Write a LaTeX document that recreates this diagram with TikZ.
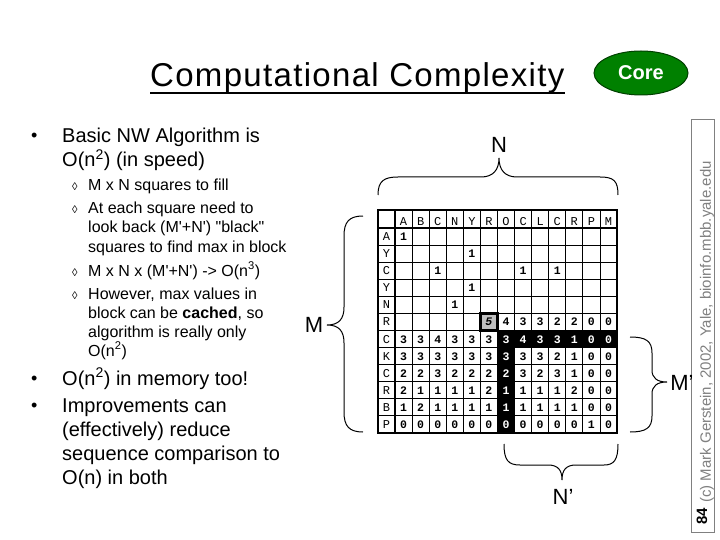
\documentclass[tikz,border=0pt]{standalone}
\usepackage{fontspec}
\setmainfont{Liberation Sans}[Ligatures=TeXOff]
\newfontfamily\monof{Liberation Mono}
\usetikzlibrary{shapes.geometric}
\definecolor{coregreen}{RGB}{0,128,0}
\definecolor{coreedge}{RGB}{0,64,0}
\definecolor{cellgray}{RGB}{192,192,192}
\definecolor{footgray}{RGB}{128,128,128}
\begin{document}
\begin{tikzpicture}[x=1pt,y=-1pt,
  main/.style={anchor=base west,inner sep=0pt,font=\fontsize{20}{24}\selectfont},
  sub/.style={anchor=base west,inner sep=0pt,font=\fontsize{16}{19}\selectfont},
  dot/.style={anchor=base west,inner sep=0pt,font=\fontsize{18}{24}\selectfont},
  loz/.style={anchor=base west,inner sep=0pt,font=\fontsize{11}{13}\selectfont},
  lbl/.style={inner sep=0pt,font=\fontsize{22}{26}\selectfont},
  hdr/.style={inner sep=0pt,font=\monof\fontsize{12}{12}\selectfont},
  num/.style={inner sep=0pt,font=\monof\bfseries\fontsize{11.5}{11}\selectfont},
  brace/.style={line width=1pt},
  thin/.style={line width=0.9pt},
  thick/.style={line width=2.6pt}]
\useasboundingbox (0,0) rectangle (720,540);

% title
\node[anchor=base west,inner sep=0pt,font=\fontsize{33}{40}\selectfont\addfontfeatures{LetterSpace=4}] (title) at (150,87) {Computational Complexity};
\draw[line width=2pt] ([yshift=-6pt]title.base west) -- ([yshift=-6pt]title.base east);
\node[ellipse,draw=coreedge,line width=1pt,fill=coregreen,minimum width=94pt,minimum height=44pt,text=white,font=\bfseries\fontsize{20}{24}\selectfont] (core) at (641,73) {Core};

% bullets
\node[dot] (d1) at (31,142) {•};
\node[main] (t1) at (62,143) {Basic NW Algorithm is};
\node[main] (t2) at (62,167) {O(n\textsuperscript{2}) (in speed)};
\node[loz] (z1) at (72,191) {◊};
\node[sub] (s1) at (88,191) {M x N squares to fill};
\node[loz] (z2) at (72,214) {◊};
\node[sub] (s2) at (88,214) {At each square need to};
\node[sub] (s3) at (88,233) {look back (M'+N') "black"};
\node[sub] (s4) at (88,252) {squares to find max in block};
\node[loz] (z3) at (72,276) {◊};
\node[sub] (s5) at (88,276) {M x N x (M'+N') -> O(n\textsuperscript{3})};
\node[loz] (z4) at (72,299) {◊};
\node[sub] (s6) at (88,299) {However, max values in};
\node[sub] (s7) at (88,318) {block can be \textbf{cached}, so};
\node[sub] (s8) at (88,337) {algorithm is really only};
\node[sub] (s9) at (88,356) {O(n\textsuperscript{2})};
\node[dot] (d2) at (31,384) {•};
\node[main] (t3) at (62,385) {O(n\textsuperscript{2}) in memory too!};
\node[dot] (d3) at (31,411) {•};
\node[main] (t4) at (62,412) {Improvements can};
\node[main] (t5) at (62,436) {(effectively) reduce};
\node[main] (t6) at (62,460) {sequence comparison to};
\node[main] (t7) at (62,484) {O(n) in both};

% footer
\draw[footgray,line width=1pt] (691,120) rectangle (714,532);
\node[rotate=90,anchor=west,inner sep=0pt,text=footgray,font=\fontsize{15}{16}\selectfont] (foot) at (707,503) {(c) Mark Gerstein, 2002, Yale, bioinfo.mbb.yale.edu};
\node[rotate=90,anchor=base,inner sep=0pt,font=\bfseries\fontsize{15}{16}\selectfont] (page) at (707,516) {84};

% table
\def\cw{17.08}
\def\xh{395}
\def\yh{228}
\foreach \k in {1,...,12}
  \draw[thin] ({\xh+\k*\cw},210) -- ({\xh+\k*\cw},433);
\foreach \k in {1,...,11}
  \draw[thin] (378,{\yh+\k*\cw}) -- (617,{\yh+\k*\cw});
\fill ({\xh+6*\cw},{\yh+6*\cw}) rectangle (617,{\yh+7*\cw});
\fill ({\xh+6*\cw},{\yh+6*\cw}) rectangle ({\xh+7*\cw},433);
\filldraw[fill=cellgray,line width=2.4pt] ({\xh+5*\cw},{\yh+5*\cw}) rectangle ({\xh+6*\cw},{\yh+6*\cw});
\draw[thick] (378,210) rectangle (617,433);
\draw[thick] (378,\yh) -- (617,\yh);
\draw[thick] (\xh,210) -- (\xh,433);

\foreach \c [count=\j from 0] in {A,B,C,N,Y,R,O,C,L,C,R,P,M}
  \node[hdr,anchor=base] (ch\j) at ({\xh+(\j+0.5)*\cw},225.5) {\c};
\foreach \c [count=\i from 0] in {A,Y,C,Y,N,R,C,K,C,R,B,P}
  \node[hdr,anchor=base] (rh\i) at (386.5,{\yh+(\i+0.5)*\cw+4}) {\c};

\foreach \row [count=\i from 0] in {
  {1,x,x,x,x,x,x,x,x,x,x,x,x},
  {x,x,x,x,1,x,x,x,x,x,x,x,x},
  {x,x,1,x,x,x,x,1,x,1,x,x,x},
  {x,x,x,x,1,x,x,x,x,x,x,x,x},
  {x,x,x,1,x,x,x,x,x,x,x,x,x},
  {x,x,x,x,x,5,4,3,3,2,2,0,0},
  {3,3,4,3,3,3,3,4,3,3,1,0,0},
  {3,3,3,3,3,3,3,3,3,2,1,0,0},
  {2,2,3,2,2,2,2,3,2,3,1,0,0},
  {2,1,1,1,1,2,1,1,1,1,2,0,0},
  {1,2,1,1,1,1,1,1,1,1,1,0,0},
  {0,0,0,0,0,0,0,0,0,0,0,1,0}}{
  \foreach \v [count=\j from 0] in \row {
    \if x\v\else
      \pgfmathtruncatemacro\blk{((\i==6)&&(\j>=6))||((\j==6)&&(\i>=6))}
      \ifnum\blk=1\def\tc{white}\else\def\tc{black}\fi
      \ifnum\i=5\ifnum\j=5\def\v{\textit{5}}\fi\fi
      \node[num,anchor=base,text=\tc] (cell-\i-\j) at ({\xh+(\j+0.5)*\cw},{\yh+(\i+0.5)*\cw+4}) {\v};
    \fi
  }
}

% braces
\draw[brace] (378,195) .. controls (378,181) and (384,177) .. (398,177) -- (481,177) .. controls (493,177) and (499,170) .. (499,158) .. controls (499,170) and (505,177) .. (517,177) -- (600,177) .. controls (614,177) and (618,181) .. (618,195);
\node[lbl] (lN) at (499,145) {N};
\draw[brace] (363,216) .. controls (349,216) and (344,222) .. (344,236) -- (344,307) .. controls (344,319) and (339,325) .. (327,325) .. controls (339,325) and (344,331) .. (344,343) -- (344,412) .. controls (344,426) and (349,432) .. (363,432);
\node[lbl] (lM) at (314,325) {M};
\draw[brace] (630,337) .. controls (646,337) and (652,341) .. (652,353) -- (652,370) .. controls (652,378) and (657,382) .. (667,382) .. controls (657,382) and (652,386) .. (652,394) -- (652,416) .. controls (652,428) and (646,432) .. (630,432);
\node[lbl] (lMp) at (682,383) {M’};
\draw[brace] (504,444) .. controls (504,460) and (508,465) .. (520,465) -- (548,465) .. controls (558,465) and (562,470) .. (562,480) .. controls (562,470) and (566,465) .. (576,465) -- (604,465) .. controls (614,465) and (618,460) .. (618,444);
\node[lbl] (lNp) at (563,497) {N’};
\end{tikzpicture}
\end{document}
